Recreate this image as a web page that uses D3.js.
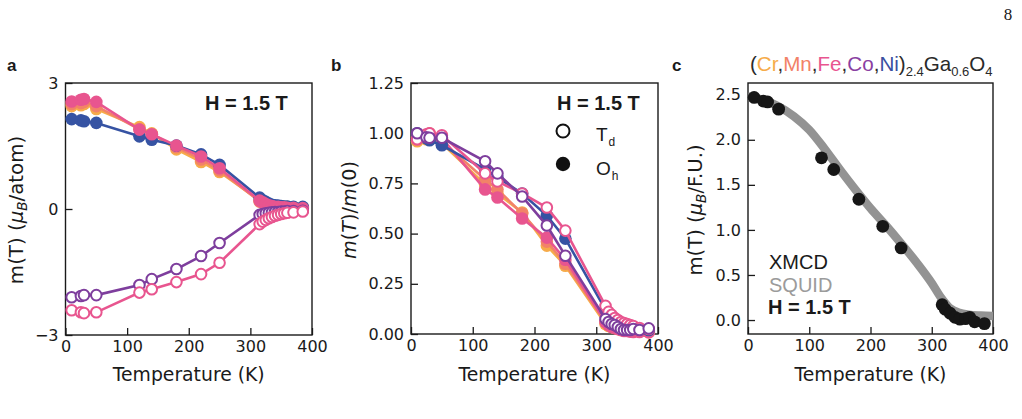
<!DOCTYPE html>
<html><head><meta charset="utf-8">
<script src="https://cdn.jsdelivr.net/npm/d3@7"></script>
<style>body{margin:0;background:#fff}svg{display:block}</style>
</head><body>
<script>
// ---------- data ----------
const temps = [10, 25, 30, 50, 120, 140, 180, 220, 250, 315, 320, 325, 330, 335, 340, 345, 350, 355, 360, 370, 385];
const xTicks = [0, 100, 200, 300, 400];

// panel a: m(T) in muB/atom
const crOh = [2.45, 2.47, 2.50, 2.38, 1.95, 1.80, 1.42, 1.12, 0.88, 0.20, 0.16, 0.13, 0.10, 0.08, 0.07, 0.06, 0.06, 0.05, 0.05, 0.04, 0.03];
const mnOh = [2.50, 2.52, 2.55, 2.45, 1.90, 1.78, 1.47, 1.18, 0.92, 0.18, 0.15, 0.12, 0.09, 0.07, 0.06, 0.05, 0.05, 0.04, 0.04, 0.03, 0.03];
const feOh = [2.56, 2.60, 2.62, 2.55, 1.89, 1.78, 1.51, 1.25, 0.97, 0.20, 0.16, 0.12, 0.09, 0.07, 0.05, 0.05, 0.04, 0.04, 0.03, 0.03, 0.02];
const niOh = [2.14, 2.11, 2.09, 2.05, 1.73, 1.65, 1.51, 1.30, 1.05, 0.27, 0.21, 0.17, 0.13, 0.10, 0.09, 0.08, 0.07, 0.06, 0.06, 0.05, 0.05];
const coTd = [-2.10, -2.07, -2.05, -2.05, -1.81, -1.67, -1.43, -1.12, -0.81, -0.14, -0.12, -0.10, -0.09, -0.08, -0.07, -0.07, -0.06, -0.06, -0.05, -0.05, -0.04];
const feTd = [-2.41, -2.46, -2.48, -2.46, -1.99, -1.91, -1.74, -1.55, -1.28, -0.36, -0.30, -0.26, -0.22, -0.19, -0.16, -0.14, -0.12, -0.10, -0.09, -0.08, -0.06];
const aYTicks = [-3, 0, 3];

// panel b: m(T)/m(0)
const crOhN = [0.96, 0.97, 0.98, 0.95, 0.745, 0.70, 0.605, 0.44, 0.34, 0.05, 0.04, 0.035, 0.03, 0.025, 0.02, 0.02, 0.02, 0.015, 0.015, 0.012, 0.01];
const mnOhN = [0.98, 0.99, 1.00, 0.96, 0.77, 0.72, 0.60, 0.46, 0.35, 0.06, 0.045, 0.04, 0.035, 0.03, 0.025, 0.02, 0.02, 0.02, 0.015, 0.015, 0.012];
const feOhN = [0.97, 0.985, 0.99, 0.975, 0.72, 0.68, 0.575, 0.48, 0.37, 0.06, 0.045, 0.035, 0.03, 0.025, 0.02, 0.015, 0.015, 0.012, 0.01, 0.01, 0.008];
const niOhN = [1.00, 0.975, 0.965, 0.94, 0.82, 0.78, 0.70, 0.59, 0.475, 0.12, 0.10, 0.08, 0.065, 0.05, 0.045, 0.04, 0.035, 0.03, 0.03, 0.025, 0.02];
const feTdN = [0.97, 0.995, 1.00, 0.99, 0.80, 0.76, 0.70, 0.63, 0.515, 0.14, 0.11, 0.095, 0.08, 0.07, 0.06, 0.055, 0.05, 0.045, 0.04, 0.03, 0.025];
const coTdN = [1.00, 0.98, 0.977, 0.977, 0.86, 0.80, 0.685, 0.54, 0.39, 0.075, 0.06, 0.05, 0.045, 0.035, 0.025, 0.02, 0.02, 0.02, 0.025, 0.02, 0.028];
const bYTicks = [0, 0.25, 0.5, 0.75, 1.0, 1.25];

// panel c: XMCD sum and SQUID
const xmcdT = [10, 25, 32, 50, 120, 140, 181, 220, 250, 317, 322, 330, 338, 346, 355, 362, 370, 386];
const xmcd = [2.47, 2.43, 2.42, 2.34, 1.80, 1.67, 1.34, 1.04, 0.80, 0.17, 0.12, 0.075, 0.03, 0.01, 0.015, 0.03, -0.02, -0.04];
const squidT = [0, 25, 50, 75, 100, 125, 150, 175, 200, 225, 250, 275, 300, 315, 330, 345, 360, 380, 400];
const squid = [2.48, 2.44, 2.37, 2.26, 2.11, 1.90, 1.67, 1.45, 1.24, 1.05, 0.85, 0.64, 0.41, 0.25, 0.13, 0.08, 0.06, 0.05, 0.045];
const cYTicks = [0, 0.5, 1.0, 1.5, 2.0, 2.5];

const colors = {Cr: "#f6ab4a", Mn: "#f28268", Fe: "#e8558f", Co: "#7e3e9d", Ni: "#3653a3"};

// ---------- drawing ----------
const svg = d3.select("body").append("svg").attr("width", 1022).attr("height", 419);
const TICKF = "DejaVu Sans", HELV = "Liberation Sans, Arial, sans-serif";
const ink = "#1a1a1a";

function panel(box, yDomain, yTicks, yFmt) {
  const x = d3.scaleLinear().domain([0, 400]).range([box.x0, box.x1]);
  const y = d3.scaleLinear().domain(yDomain).range([box.y1, box.y0]);
  const g = svg.append("g");
  const ax = g.append("g").attr("transform", `translate(0,${box.y1})`)
    .call(d3.axisBottom(x).tickValues(xTicks).tickSizeInner(-7).tickSizeOuter(0).tickPadding(6).tickFormat(d3.format("d")));
  const ay = g.append("g").attr("transform", `translate(${box.x0},0)`)
    .call(d3.axisLeft(y).tickValues(yTicks).tickSizeInner(-7).tickSizeOuter(0).tickPadding(7).tickFormat(yFmt));
  [ax, ay].forEach(a => {
    a.select(".domain").remove();
    a.selectAll("line").attr("stroke", ink).attr("stroke-width", 1.3);
    a.selectAll("text").attr("font-family", TICKF).attr("font-size", 16).attr("fill", ink);
  });
  g.append("rect").attr("x", box.x0).attr("y", box.y0).attr("width", box.x1 - box.x0).attr("height", box.y1 - box.y0)
    .attr("fill", "none").attr("stroke", ink).attr("stroke-width", 1.4);
  g.append("text").attr("x", (box.x0 + box.x1) / 2).attr("y", 381).attr("text-anchor", "middle")
    .attr("font-family", TICKF).attr("font-size", 18.8).attr("fill", ink).text("Temperature (K)");
  return {x, y, g};
}

function series(p, xs, ys, color, open) {
  const pts = xs.map((t, i) => [t, ys[i]]);
  const line = d3.line().x(d => p.x(d[0])).y(d => p.y(d[1]));
  p.g.append("path").datum(pts).attr("d", line).attr("fill", "none").attr("stroke", color).attr("stroke-width", 2.6);
  p.g.append("g").selectAll("circle").data(pts).join("circle")
    .attr("cx", d => p.x(d[0])).attr("cy", d => p.y(d[1]))
    .attr("r", open ? 5.3 : 6.3)
    .attr("fill", open ? "#fff" : color)
    .attr("stroke", color).attr("stroke-width", open ? 2 : 0);
}

const minusFmt = d => d < 0 ? "\u2212" + Math.abs(d) : String(d);

// panel a
const pa = panel({x0: 65.5, x1: 312, y0: 83, y1: 335}, [-3, 3], aYTicks, minusFmt);
series(pa, temps, crOh, colors.Cr, false);
series(pa, temps, mnOh, colors.Mn, false);
series(pa, temps, niOh, colors.Ni, false);
series(pa, temps, feOh, colors.Fe, false);
series(pa, temps, coTd, colors.Co, true);
series(pa, temps, feTd, colors.Fe, true);

// panel b
const pb = panel({x0: 411, x1: 658, y0: 83, y1: 334}, [0, 1.25], bYTicks, d3.format(".2f"));
series(pb, temps, crOhN, colors.Cr, false);
series(pb, temps, mnOhN, colors.Mn, false);
series(pb, temps, feOhN, colors.Fe, false);
series(pb, temps, niOhN, colors.Ni, false);
series(pb, temps, feTdN, colors.Fe, true);
series(pb, temps, coTdN, colors.Co, true);

// panel c
const boxC = {x0: 748, x1: 993, y0: 83, y1: 334};
const pc = panel(boxC, [-0.155, 2.63], cYTicks, d3.format(".1f"));
svg.append("defs").append("clipPath").attr("id", "clipc").append("rect")
  .attr("x", boxC.x0).attr("y", boxC.y0).attr("width", boxC.x1 - boxC.x0).attr("height", boxC.y1 - boxC.y0);
pc.g.append("path").datum(squidT.map((t, i) => [t, squid[i]]))
  .attr("d", d3.line().x(d => pc.x(d[0])).y(d => pc.y(d[1])).curve(d3.curveMonotoneX))
  .attr("fill", "none").attr("stroke", "#939393").attr("stroke-width", 8.5).attr("clip-path", "url(#clipc)");
pc.g.append("g").selectAll("circle").data(xmcdT.map((t, i) => [t, xmcd[i]])).join("circle")
  .attr("cx", d => pc.x(d[0])).attr("cy", d => pc.y(d[1])).attr("r", 6.4).attr("fill", "#161616");

// ---------- y labels ----------
function ylab(xc, yc, size, build) {
  const t = svg.append("text").attr("transform", `translate(${xc},${yc}) rotate(-90)`).attr("text-anchor", "middle")
    .attr("font-family", TICKF).attr("font-size", size).attr("fill", ink);
  build(t);
}
ylab(23, 210, 19.8, t => {
  t.append("tspan").text("m(T) (");
  t.append("tspan").attr("font-style", "italic").text("\u03bc");
  t.append("tspan").attr("font-style", "italic").attr("font-size", 13.5).attr("dy", 4).text("B");
  t.append("tspan").attr("dy", -4).text("/atom)");
});
ylab(356, 210, 19.2, t => {
  t.append("tspan").attr("font-style", "italic").text("m");
  t.append("tspan").text("(");
  t.append("tspan").attr("font-style", "italic").text("T");
  t.append("tspan").text(")/");
  t.append("tspan").attr("font-style", "italic").text("m");
  t.append("tspan").text("(0)");
});
ylab(702, 210, 19.6, t => {
  t.append("tspan").text("m(T) (");
  t.append("tspan").attr("font-style", "italic").text("\u03bc");
  t.append("tspan").attr("font-style", "italic").attr("font-size", 13.5).attr("dy", 4).text("B");
  t.append("tspan").attr("dy", -4).text("/F.U.)");
});

// ---------- annotations ----------
function txt(x, y, s, opts = {}) {
  return svg.append("text").attr("x", x).attr("y", y).attr("font-family", opts.family || HELV)
    .attr("font-size", opts.size || 20).attr("font-weight", opts.weight || "normal")
    .attr("fill", opts.fill || ink).attr("text-anchor", opts.anchor || "start").text(s);
}
// panel letters
txt(7, 71, "a", {size: 17, weight: "bold"});
txt(331, 71, "b", {size: 17, weight: "bold"});
txt(672, 71, "c", {size: 17, weight: "bold"});
// page number
txt(1008, 20, "8", {family: "Liberation Serif, serif", size: 17, anchor: "middle"});

// H labels
txt(205, 110, "H = 1.5 T", {weight: "bold"});
txt(557, 110, "H = 1.5 T", {weight: "bold"});

// legend panel b
svg.append("circle").attr("cx", 563).attr("cy", 131).attr("r", 6.5).attr("fill", "#fff").attr("stroke", "#111").attr("stroke-width", 2);
svg.append("circle").attr("cx", 563).attr("cy", 164).attr("r", 7.2).attr("fill", "#111");
{
  const t1 = txt(596, 141, "", {size: 19});
  t1.append("tspan").text("T");
  t1.append("tspan").attr("font-size", 12).attr("dy", 5).attr("dx", 1).text("d");
  const t2 = txt(596, 175, "", {size: 19});
  t2.append("tspan").text("O");
  t2.append("tspan").attr("font-size", 12).attr("dy", 5).attr("dx", 1).text("h");
}

// panel c texts
txt(769, 269, "XMCD", {});
txt(769, 292, "SQUID", {fill: "#9b9b9b"});
txt(768, 314, "H = 1.5 T", {weight: "bold"});

// panel c title
{
  const t = txt(750, 71, "", {size: 20.6, fill: "#2a2a2a"});
  const parts = [["(", null], ["Cr", colors.Cr], [",", null], ["Mn", colors.Mn], [",", null], ["Fe", colors.Fe], [",", null], ["Co", "#8a3fa2"], [",", null], ["Ni", "#3a4fa0"], [")", null]];
  parts.forEach(([s, c]) => { const sp = t.append("tspan").text(s); if (c) sp.attr("fill", c); });
  t.append("tspan").attr("font-size", 13).attr("dy", 5).text("2.4");
  t.append("tspan").attr("dy", -5).text("Ga");
  t.append("tspan").attr("font-size", 13).attr("dy", 5).text("0.6");
  t.append("tspan").attr("dy", -5).text("O");
  t.append("tspan").attr("font-size", 13).attr("dy", 5).text("4");
}
</script>
</body></html>
